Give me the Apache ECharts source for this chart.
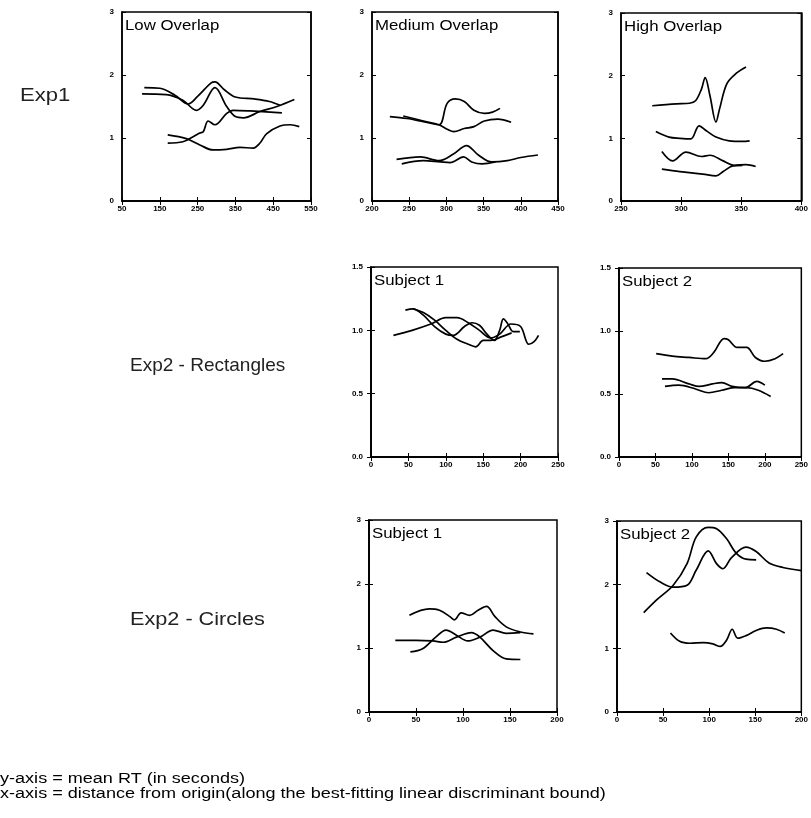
<!DOCTYPE html>
<html>
<head>
<meta charset="utf-8">
<script src="https://cdn.jsdelivr.net/npm/echarts@6/dist/echarts.min.js"></script>
<style>
html, body { margin: 0; padding: 0; background: #fff; }
#main { width: 811px; height: 818px; }
</style>
</head>
<body>
<div id="main"></div>
<script>
// Exp1 - Low Overlap
var lowA = [[109,1.80],[150,1.79],[190,1.68],[225,1.54],[250,1.66],[285,1.87],[296,1.89],[320,1.77],[350,1.65],[400,1.62],[440,1.58],[468,1.52]];
var lowB = [[103,1.70],[167,1.69],[211,1.60],[247,1.44],[265,1.52],[296,1.80],[327,1.50],[350,1.34],[371,1.32],[415,1.42],[460,1.50],[506,1.61]];
var lowC = [[171,1.05],[220,0.99],[256,0.89],[291,0.81],[327,0.82],[362,0.85],[397,0.84],[415,0.92],[433,1.07],[468,1.19],[495,1.21],[519,1.18]];
var lowD = [[171,0.92],[211,0.94],[238,1.02],[256,1.08],[265,1.10],[278,1.27],[296,1.21],[327,1.39],[344,1.44],[389,1.43],[473,1.40]];
// Exp1 - Medium Overlap
var medA = [[224,1.34],[247,1.31],[269,1.26],[290,1.21],[301,1.55],[312,1.62],[324,1.58],[337,1.44],[351,1.39],[362,1.41],[372,1.47]];
var medB = [[242,1.35],[269,1.27],[290,1.21],[301,1.14],[310,1.10],[324,1.15],[337,1.18],[351,1.27],[369,1.30],[387,1.25]];
var medC = [[233,0.66],[265,0.70],[290,0.64],[310,0.75],[327,0.88],[343,0.73],[361,0.62],[382,0.64],[400,0.69],[423,0.73]];
var medD = [[240,0.59],[269,0.64],[292,0.62],[305,0.61],[323,0.70],[334,0.62],[348,0.59],[366,0.62]];
// Exp1 - High Overlap
var highA = [[276,1.52],[296,1.55],[307,1.56],[312,1.60],[317,1.79],[320,1.97],[324,1.68],[329,1.26],[332,1.47],[338,1.87],[346,2.04],[354,2.14]];
var highB = [[279,1.11],[290,1.02],[299,1.00],[308,0.99],[315,1.20],[321,1.12],[329,1.02],[340,0.96],[351,0.95],[357,0.96]];
var highC = [[284,0.79],[293,0.64],[304,0.78],[317,0.71],[324,0.73],[335,0.64],[344,0.57],[354,0.58],[362,0.55]];
var highD = [[284,0.51],[299,0.47],[318,0.43],[329,0.40],[335,0.47],[343,0.56],[351,0.57]];
// Exp2 - Rectangles, Subject 1
var rect1A = [[30,0.96],[55,1.00],[80,1.05],[100,1.10],[115,1.10],[130,1.06],[145,1.00],[160,0.94],[172,0.97],[187,1.05],[200,1.03],[211,0.89],[218,0.91],[224,0.96]];
var rect1B = [[46,1.16],[56,1.17],[70,1.12],[85,1.03],[100,0.97],[110,0.96],[125,1.03],[135,1.06],[145,1.04],[155,0.97],[165,0.92],[172,1.00],[177,1.09],[183,1.05],[190,0.99],[199,0.99]];
var rect1C = [[56,1.17],[70,1.14],[85,1.08],[100,1.00],[115,0.93],[130,0.89],[140,0.87],[150,0.92],[160,0.92],[175,0.95],[188,0.98]];
// Exp2 - Rectangles, Subject 2
var rect2A = [[51,0.82],[73,0.80],[96,0.79],[119,0.78],[130,0.83],[144,0.94],[150,0.93],[162,0.87],[175,0.87],[187,0.79],[200,0.76],[214,0.78],[225,0.82]];
var rect2B = [[59,0.62],[73,0.62],[96,0.58],[110,0.56],[128,0.58],[141,0.59],[155,0.56],[173,0.55],[189,0.60],[200,0.57]];
var rect2C = [[63,0.56],[82,0.57],[105,0.54],[123,0.51],[141,0.53],[159,0.55],[175,0.55],[191,0.53],[208,0.48]];
// Exp2 - Circles, Subject 1
var circ1A = [[43,1.51],[64,1.61],[75,1.59],[86,1.49],[91,1.44],[98,1.55],[107,1.51],[116,1.59],[125,1.65],[134,1.49],[146,1.33],[161,1.25],[175,1.22]];
var circ1B = [[28,1.12],[50,1.12],[68,1.11],[79,1.09],[93,1.17],[109,1.24],[118,1.17],[132,0.96],[146,0.83],[161,0.82]];
var circ1C = [[44,0.94],[57,0.99],[71,1.17],[82,1.28],[93,1.20],[105,1.11],[118,1.17],[132,1.28],[146,1.23],[161,1.24]];
// Exp2 - Circles, Subject 2
var circ2A = [[29,1.56],[43,1.76],[61,1.99],[76,2.33],[86,2.75],[99,2.90],[108,2.88],[119,2.72],[129,2.50],[140,2.40],[151,2.39]];
var circ2B = [[32,2.19],[47,2.04],[61,1.96],[76,1.99],[86,2.23],[99,2.53],[108,2.33],[115,2.25],[124,2.42],[140,2.59],[151,2.52],[165,2.34],[180,2.27],[200,2.22]];
var circ2C = [[58,1.24],[68,1.11],[79,1.08],[94,1.09],[104,1.07],[112,1.03],[119,1.13],[125,1.30],[131,1.16],[140,1.20],[151,1.28],[162,1.32],[173,1.30],[182,1.24]];

var panelTitles = ['Low Overlap', 'Medium Overlap', 'High Overlap', 'Subject 1', 'Subject 2', 'Subject 1', 'Subject 2'];
var rowLabels = ['Exp1', 'Exp2 - Rectangles', 'Exp2 - Circles'];
var notes = ['y-axis = mean RT (in seconds)', 'x-axis = distance from origin(along the best-fitting linear discriminant bound)'];

// panel boxes: left, top, width, height + axis ranges
var panels = [
    { box: [122, 12, 189, 189], x: [50, 550, 100], y: [0, 3, 1], lines: [lowA, lowB, lowC, lowD] },
    { box: [372, 12, 186, 189], x: [200, 450, 50], y: [0, 3, 1], lines: [medA, medB, medC, medD] },
    { box: [621, 13, 182, 188], x: [250, 400, 50], y: [0, 3, 1], lines: [highA, highB, highC, highD] },
    { box: [371, 267, 187, 190], x: [0, 250, 50], y: [0, 1.5, 0.5], lines: [rect1A, rect1B, rect1C] },
    { box: [619, 268, 184, 189], x: [0, 250, 50], y: [0, 1.5, 0.5], lines: [rect2A, rect2B, rect2C] },
    { box: [369, 520, 188, 192], x: [0, 200, 50], y: [0, 3, 1], lines: [circ1A, circ1B, circ1C] },
    { box: [617, 521, 185, 191], x: [0, 200, 50], y: [0, 3, 1], lines: [circ2A, circ2B, circ2C] }
];

var tickFont = { fontSize: 8, fontWeight: 'bold', color: '#000', fontFamily: 'Liberation Sans' };

var grid = [], xAxis = [], yAxis = [], series = [], graphic = [];
panels.forEach(function (p, i) {
    grid.push({ left: p.box[0], top: p.box[1], width: p.box[2], height: p.box[3], show: true, borderColor: '#000', borderWidth: 1.5 });
    var half = p.y[2] === 0.5;
    // bottom + top x axes
    xAxis.push({
        type: 'value', gridIndex: i, min: p.x[0], max: p.x[1], interval: p.x[2], position: 'bottom',
        axisLine: { lineStyle: { color: '#000', width: 1.5 } },
        axisTick: { inside: true, length: 4, lineStyle: { color: '#000' } },
        axisLabel: Object.assign({ margin: 4, showMinLabel: true, showMaxLabel: true }, tickFont),
        splitLine: { show: false }
    });
    xAxis.push({
        type: 'value', gridIndex: i, min: p.x[0], max: p.x[1], interval: p.x[2], position: 'top',
        axisLine: { lineStyle: { color: '#000', width: 1.5 } },
        axisTick: { inside: true, length: 4, lineStyle: { color: '#000' } },
        axisLabel: { show: false }, splitLine: { show: false }
    });
    yAxis.push({
        type: 'value', gridIndex: i, min: p.y[0], max: p.y[1], interval: p.y[2], position: 'left',
        axisLine: { lineStyle: { color: '#000', width: 1.5 } },
        axisTick: { inside: true, length: 4, lineStyle: { color: '#000' } },
        axisLabel: Object.assign({
            margin: 8,
            formatter: function (v) { return half ? v.toFixed(1) : String(v); }
        }, tickFont),
        splitLine: { show: false }
    });
    yAxis.push({
        type: 'value', gridIndex: i, min: p.y[0], max: p.y[1], interval: p.y[2], position: 'right',
        axisLine: { lineStyle: { color: '#000', width: 1.5 } },
        axisTick: { inside: true, length: 4, lineStyle: { color: '#000' } },
        axisLabel: { show: false }, splitLine: { show: false }
    });
    p.lines.forEach(function (d) {
        series.push({
            type: 'line', xAxisIndex: i * 2, yAxisIndex: i * 2, data: d,
            smooth: 0.35, showSymbol: false, silent: true,
            lineStyle: { color: '#000', width: 1.7 }
        });
    });
    graphic.push({
        type: 'text', x: p.box[0] + 3, y: p.box[1] + 7, scaleX: 1.2,
        style: { text: panelTitles[i], font: '14px "Liberation Sans"', fill: '#000' }
    });
});

var rowPos = [[20, 86, 1.16], [130, 356, 1.0], [130, 610, 1.14]];
rowLabels.forEach(function (t, i) {
    graphic.push({
        type: 'text', x: rowPos[i][0], y: rowPos[i][1], scaleX: rowPos[i][2],
        style: { text: t, font: '19px "Liberation Sans"', fill: '#222' }
    });
});
notes.forEach(function (t, i) {
    graphic.push({
        type: 'text', x: 0, y: 772 + i * 15, scaleX: 1.29,
        style: { text: t, font: '14px "Liberation Sans"', fill: '#000' }
    });
});

var myChart = echarts.init(document.getElementById('main'));
myChart.setOption({
    animation: false,
    grid: grid,
    xAxis: xAxis,
    yAxis: yAxis,
    series: series,
    graphic: graphic
});
</script>
</body>
</html>
